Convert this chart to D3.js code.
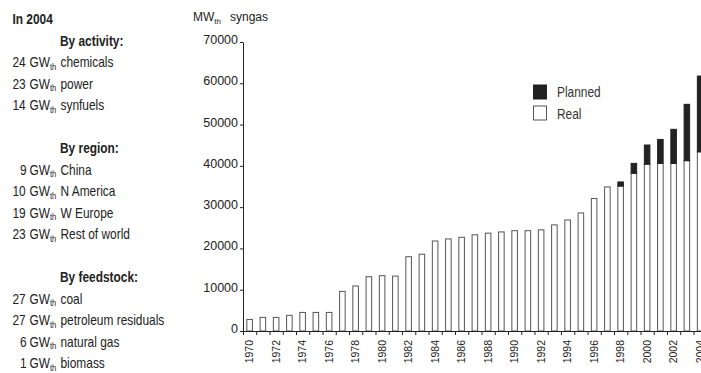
<!DOCTYPE html>
<html>
<head>
<meta charset="utf-8">
<script src="https://cdn.jsdelivr.net/npm/d3@7"></script>
<style>
  body { margin: 0; background: #fff; }
  .side { font-family: "Liberation Sans", Arial, sans-serif; font-size: 14px; fill: #222; }
  .side .bold { font-weight: bold; }
  .axis text { font-family: "Liberation Sans", Arial, sans-serif; fill: #222; }
  .legend text { font-family: "Liberation Sans", Arial, sans-serif; font-size: 14px; fill: #333; }
</style>
</head>
<body>
<div id="chart"></div>
<script>
// syngas capacity, MWth
var years = [1970,1971,1972,1973,1974,1975,1976,1977,1978,1979,
             1980,1981,1982,1983,1984,1985,1986,1987,1988,1989,
             1990,1991,1992,1993,1994,1995,1996,1997,1998,1999,
             2000,2001,2002,2003,2004]
var realMW = [2800,3300,3300,3800,4500,4500,4500,9600,10900,13150,
              13400,13300,18000,18600,21800,22300,22700,23300,23700,24000,
              24300,24300,24500,25700,26900,28600,32100,34900,35100,38200,
              40400,40600,40600,41250,43400]
var plannedMW = [0,0,0,0,0,0,0,0,0,0,
                 0,0,0,0,0,0,0,0,0,0,
                 0,0,0,0,0,0,0,0,1000,2400,
                 4650,5800,8250,13650,18350]
var yTicks = [0,10000,20000,30000,40000,50000,60000,70000]
var labelYears = [1970,1972,1974,1976,1978,1980,1982,1984,1986,1988,1990,1992,1994,1996,1998,2000,2002,2004]

// side panel text
var byActivity = [["24","chemicals"],["23","power"],["14","synfuels"]]
var byRegion = [["9","China"],["10","N America"],["19","W Europe"],["23","Rest of world"]]
var byFeedstock = [["27","coal"],["27","petroleum residuals"],["6","natural gas"],["1","biomass"]]

var width = 701, height = 373
var squeeze = 0.85   // the scan has a condensed face, no narrow font here

var svg = d3.select("#chart").append("svg")
    .attr("width", width).attr("height", height)

var x = d3.scaleBand()
    .domain(years)
    .range([243, 243 + 35 * 13.25])
    .paddingInner(0.58)
    .paddingOuter(0.29)

var y = d3.scaleLinear()
    .domain([0, 70000])
    .range([331, 42])

var table = years.map(function(d, i){
    return {year: d, real: realMW[i], planned: plannedMW[i]}
})
var stacked = d3.stack().keys(["real","planned"])(table)

// bars
svg.append("g").selectAll("g")
    .data(stacked).enter()
    .append("g")
    .attr("fill", function(d){ return d.key == "real" ? "#fff" : "#222" })
    .attr("stroke", function(d){ return d.key == "real" ? "#555" : "#222" })
    .attr("stroke-width", 1)
    .selectAll("rect")
    .data(function(d){ return d.filter(function(p){ return p[1] > p[0] }) })
    .enter().append("rect")
    .attr("x", function(d){ return x(d.data.year) })
    .attr("y", function(d){ return y(d[1]) })
    .attr("width", x.bandwidth())
    .attr("height", function(d){ return y(d[0]) - y(d[1]) })

// y axis
var yAxis = svg.append("g").attr("class", "axis")
    .attr("transform", "translate(243,0)")
    .call(d3.axisLeft(y).tickValues(yTicks).tickSize(3).tickSizeOuter(0).tickPadding(2).tickFormat(d3.format("d")))
yAxis.selectAll("text").style("font-size", "12.5px").attr("dy", "1.5px")
yAxis.selectAll("line, path").attr("stroke", "#222")

// x axis: labels at centres, ticks between bars
var xAxis = svg.append("g").attr("class", "axis")
    .attr("transform", "translate(0,331)")
    .call(d3.axisBottom(x).tickValues(labelYears).tickSize(0).tickSizeOuter(0))
xAxis.select(".domain").attr("stroke", "#222")
xAxis.selectAll("text")
    .style("font-size", "10.5px")
    .style("text-anchor", "end")
    .attr("transform", "rotate(-90)")
    .attr("x", -9).attr("y", 0).attr("dy", "0.36em")

xAxis.selectAll(".bound").data(years).enter()
    .append("line").attr("class", "bound")
    .attr("x1", function(d){ return x(d) - x.step() * x.paddingInner() / 2 + 0.5 })
    .attr("x2", function(d){ return x(d) - x.step() * x.paddingInner() / 2 + 0.5 })
    .attr("y1", 0).attr("y2", 4)
    .attr("stroke", "#222")

// axis title
var title = svg.append("text").attr("class", "axis")
    .attr("x", 193).attr("y", 20.5)
    .style("font-family", "Liberation Sans, Arial, sans-serif")
    .style("font-size", "12px").style("fill", "#222")
title.append("tspan").text("MW")
title.append("tspan").attr("dy", 3).style("font-size", "8px").text("th")
title.append("tspan").attr("dy", -3).attr("x", 230).text("syngas")

// legend
var legend = svg.append("g").attr("class", "legend")
var legendItems = [["Planned","#222"],["Real","#fff"]]
legend.selectAll("rect").data(legendItems).enter().append("rect")
    .attr("x", 533.5).attr("y", function(d, i){ return 85 + i * 21 })
    .attr("width", 13).attr("height", 14)
    .attr("fill", function(d){ return d[1] })
    .attr("stroke", function(d){ return d[1] == "#fff" ? "#555" : "#222" })
legend.append("g").attr("transform", "scale(" + squeeze + ",1)")
    .selectAll("text").data(legendItems).enter().append("text")
    .attr("x", 557 / squeeze).attr("y", function(d, i){ return 97.5 + i * 21.5 })
    .text(function(d){ return d[0] })

// side panel
var side = svg.append("g").attr("class", "side")
    .attr("transform", "scale(" + squeeze + ",1)")
function rowY(n){ return 24.5 + n * 21.5 }
function sx(v){ return v / squeeze }

side.append("text").attr("class", "bold").attr("x", sx(12.5)).attr("y", rowY(0)).text("In 2004")

function block(heading, rows, startRow){
    side.append("text").attr("class", "bold").attr("x", sx(60)).attr("y", rowY(startRow)).text(heading)
    rows.forEach(function(r, i){
        var t = side.append("text").attr("y", rowY(startRow + 1 + i))
        t.append("tspan").attr("x", sx(r[0].length == 1 ? 20 : 12.5)).text(r[0])
        t.append("tspan").attr("x", sx(29.5)).text("GW")
        t.append("tspan").attr("dy", 2.5).style("font-size", "9px").text("th")
        t.append("tspan").attr("dy", -2.5).attr("x", sx(60.5)).text(r[1])
    })
}
block("By activity:", byActivity, 1)
block("By region:", byRegion, 6)
block("By feedstock:", byFeedstock, 12)
</script>
</body>
</html>
